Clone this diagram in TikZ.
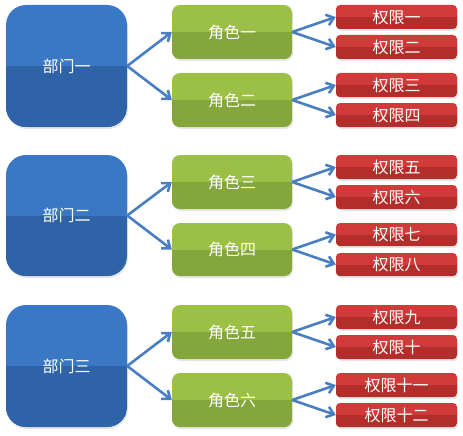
\documentclass[tikz,border=0pt]{standalone}
\usepackage{fontspec}
\setmainfont{Noto Sans CJK SC}
\usetikzlibrary{fit,shadows,arrows.meta}

\definecolor{bluetop}{HTML}{3A77C4}
\definecolor{bluebot}{HTML}{2E63A8}
\definecolor{greentop}{HTML}{9CBF45}
\definecolor{greenbot}{HTML}{84A63B}
\definecolor{redtop}{HTML}{D03A39}
\definecolor{redbot}{HTML}{B32D2B}
\definecolor{arrowblue}{HTML}{4A7EC2}

\begin{document}
\begin{tikzpicture}[x=1pt, y=-1pt,
    every label/.style={text=white, font=\fontsize{16}{19}\selectfont},
    box/.style={inner sep=0pt, drop shadow={opacity=0.2, shadow xshift=1pt, shadow yshift=-2pt}},
    dept/.style={box, rounded corners=20pt, fill=bluetop,
        path picture={\fill[bluebot, sharp corners] (path picture bounding box.west) rectangle (path picture bounding box.south east);}},
    role/.style={box, rounded corners=8pt, fill=greentop,
        path picture={\fill[greenbot, sharp corners] (path picture bounding box.west) rectangle (path picture bounding box.south east);}},
    perm/.style={box, rounded corners=4pt, fill=redtop,
        path picture={\fill[redbot, sharp corners] (path picture bounding box.west) rectangle (path picture bounding box.south east);}},
    arr/.style={-{Straight Barb[length=7pt, width=11pt]}, arrowblue, line width=2.6pt}]
    \useasboundingbox (0,0) rectangle (463,436);

    % group one
    \node[dept, fit={(6,5) (127,127)}, label=center:{部门一}] (d1) {};
    \node[role, fit={(172,5) (292,59)}, label=center:{角色一}] (r1) {};
    \node[role, fit={(172,73) (292,127)}, label=center:{角色二}] (r2) {};
    \node[perm, fit={(336,5) (457,29)}, label=center:{权限一}] (p1) {};
    \node[perm, fit={(336,35) (457,59)}, label=center:{权限二}] (p2) {};
    \node[perm, fit={(336,73) (457,97)}, label=center:{权限三}] (p3) {};
    \node[perm, fit={(336,103) (457,127)}, label=center:{权限四}] (p4) {};

    % group two
    \node[dept, fit={(6,155) (127,276)}, label=center:{部门二}] (d2) {};
    \node[role, fit={(172,155) (292,209)}, label=center:{角色三}] (r3) {};
    \node[role, fit={(172,223) (292,276)}, label=center:{角色四}] (r4) {};
    \node[perm, fit={(336,155) (457,179)}, label=center:{权限五}] (p5) {};
    \node[perm, fit={(336,185) (457,209)}, label=center:{权限六}] (p6) {};
    \node[perm, fit={(336,223) (457,246)}, label=center:{权限七}] (p7) {};
    \node[perm, fit={(336,253) (457,276)}, label=center:{权限八}] (p8) {};

    % group three
    \node[dept, fit={(6,305) (127,427)}, label=center:{部门三}] (d3) {};
    \node[role, fit={(172,305) (292,359)}, label=center:{角色五}] (r5) {};
    \node[role, fit={(172,373) (292,427)}, label=center:{角色六}] (r6) {};
    \node[perm, fit={(336,305) (457,329)}, label=center:{权限九}] (p9) {};
    \node[perm, fit={(336,335) (457,359)}, label=center:{权限十}] (p10) {};
    \node[perm, fit={(336,373) (457,397)}, label=center:{权限十一}] (p11) {};
    \node[perm, fit={(336,403) (457,427)}, label=center:{权限十二}] (p12) {};

    \draw[arr] (d1.east) -- (r1.west);
    \draw[arr] (d1.east) -- (r2.west);
    \draw[arr] (r1.east) -- (p1.west);
    \draw[arr] (r1.east) -- (p2.west);
    \draw[arr] (r2.east) -- (p3.west);
    \draw[arr] (r2.east) -- (p4.west);

    \draw[arr] (d2.east) -- (r3.west);
    \draw[arr] (d2.east) -- (r4.west);
    \draw[arr] (r3.east) -- (p5.west);
    \draw[arr] (r3.east) -- (p6.west);
    \draw[arr] (r4.east) -- (p7.west);
    \draw[arr] (r4.east) -- (p8.west);

    \draw[arr] (d3.east) -- (r5.west);
    \draw[arr] (d3.east) -- (r6.west);
    \draw[arr] (r5.east) -- (p9.west);
    \draw[arr] (r5.east) -- (p10.west);
    \draw[arr] (r6.east) -- (p11.west);
    \draw[arr] (r6.east) -- (p12.west);
\end{tikzpicture}
\end{document}
